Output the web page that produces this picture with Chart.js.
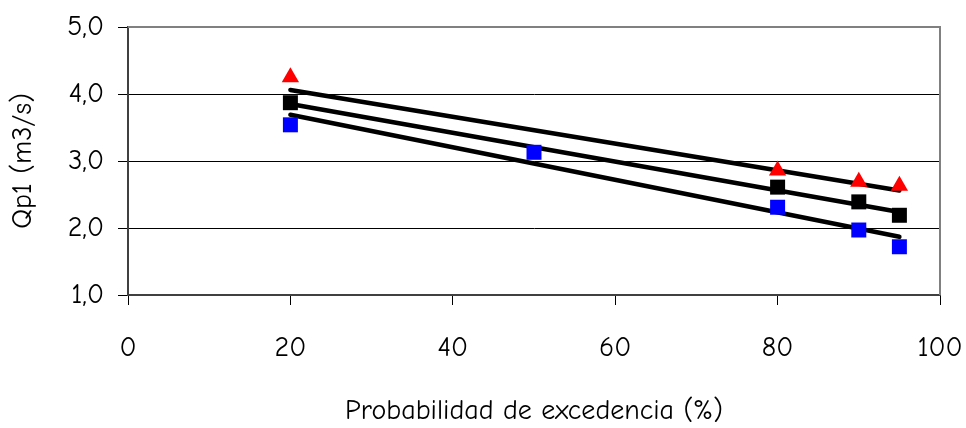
<!DOCTYPE html>
<html>
<head>
<meta charset="utf-8">
<script src="https://cdn.jsdelivr.net/npm/chart.js@4/dist/chart.umd.min.js"></script>
<style>
  html, body { margin: 0; padding: 0; background: #fff; }
  #wrap { width: 966px; height: 428px; }
</style>
</head>
<body>
<div id="wrap"><canvas id="chart" width="966" height="428"></canvas></div>
<script>
// Data
const xTriangle = [20, 80, 90, 95];
const yTriangle = [4.25, 2.86, 2.69, 2.63];
const xBlack = [20, 80, 90, 95];
const yBlack = [3.87, 2.61, 2.39, 2.19];
const xBlue = [20, 50, 80, 90, 95];
const yBlue = [3.54, 3.13, 2.31, 1.97, 1.72];

// Trend line end points (x = 20 and x = 95)
const trendX = [20, 95];
const trendTop = [4.06, 2.56];
const trendMid = [3.85, 2.24];
const trendLow = [3.69, 1.87];

const font = "'Comic Sans MS', 'Comic Neue', 'DejaVu Sans', sans-serif";
const fontSize = 28;

const pts = (xs, ys) => xs.map((x, i) => ({ x: x, y: ys[i] }));

// grey border round the plot area
const plotBorder = {
  id: "plotBorder",
  beforeDatasetsDraw(chart) {
    const { ctx, chartArea: a } = chart;
    ctx.save();
    ctx.strokeStyle = "#808080";
    ctx.lineWidth = 2;
    ctx.beginPath();
    ctx.moveTo(a.left, a.top);
    ctx.lineTo(a.right, a.top);
    ctx.lineTo(a.right, a.bottom);
    ctx.stroke();
    ctx.restore();
  }
};

const markerSet = (xs, ys, color, style, r) => ({
  type: "scatter",
  data: pts(xs, ys),
  pointStyle: style,
  pointRadius: r,
  pointHoverRadius: r,
  backgroundColor: color,
  borderWidth: 0,
  showLine: false
});

const trendSet = (ys) => ({
  type: "line",
  data: pts(trendX, ys),
  borderColor: "#000",
  borderWidth: 4.5,
  borderCapStyle: "round",
  pointRadius: 0,
  fill: false
});

new Chart(document.getElementById("chart"), {
  data: {
    datasets: [
      markerSet(xTriangle, yTriangle, "#ff0000", "triangle", 10),
      markerSet(xBlack, yBlack, "#000000", "rect", 10.6),
      markerSet(xBlue, yBlue, "#0000ff", "rect", 10.6),
      trendSet(trendTop),
      trendSet(trendMid),
      trendSet(trendLow)
    ]
  },
  plugins: [plotBorder],
  options: {
    responsive: false,
    animation: false,
    layout: { padding: { top: 27, right: 26, bottom: 0, left: 0 } },
    plugins: { legend: { display: false }, tooltip: { enabled: false } },
    scales: {
      x: {
        type: "linear",
        min: 0,
        max: 100,
        ticks: { stepSize: 20, color: "#000", font: { family: font, size: fontSize }, padding: 26 },
        grid: { drawOnChartArea: false, tickLength: 10, color: "#000", lineWidth: 1 },
        border: { color: "#404040", width: 2 },
        title: { display: true, text: "Probabilidad de excedencia (%)", color: "#000", font: { family: font, size: fontSize }, padding: { top: 4, bottom: 0 } },
        afterFit: (s) => { s.height = 133; s.paddingRight = 0; s.paddingLeft = 0; }
      },
      y: {
        type: "linear",
        min: 1,
        max: 5,
        ticks: {
          stepSize: 1,
          color: "#000",
          font: { family: font, size: fontSize },
          padding: 14,
          callback: (v) => v.toFixed(1).replace(".", ",")
        },
        grid: { color: "#000", lineWidth: 1, tickLength: 10 },
        border: { color: "#404040", width: 2 },
        title: { display: true, text: "Qp1 (m3/s)", color: "#000", font: { family: font, size: fontSize }, padding: { top: 6, bottom: 4 } },
        afterFit: (s) => { s.width = 128; s.paddingTop = 0; s.paddingBottom = 0; }
      }
    }
  }
});
</script>
</body>
</html>
